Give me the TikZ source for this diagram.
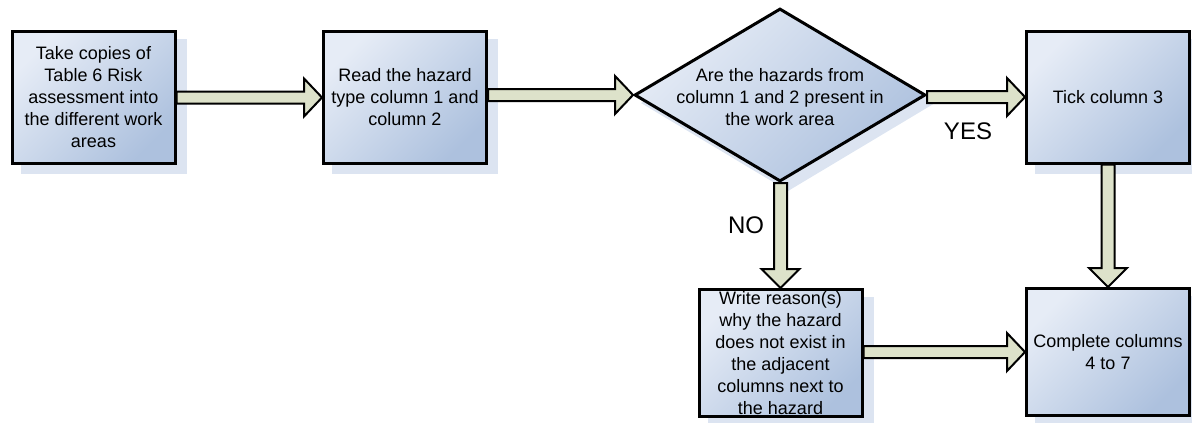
\documentclass[tikz,border=0pt]{standalone}
\usepackage{fontspec}
\setmainfont{Liberation Sans}
\usetikzlibrary{shapes.geometric,calc}
\pgfdeclarelayer{shadowlayer}
\pgfdeclarelayer{arrowlayer}
\pgfsetlayers{shadowlayer,arrowlayer,main}
\definecolor{boxlight}{HTML}{E6ECF6}
\definecolor{boxdark}{HTML}{ADC1DE}
\definecolor{arrowfill}{HTML}{DDE2CA}
\definecolor{shadowc}{HTML}{DCE4F1}
\tikzset{
  stepbox/.style={rectangle, draw=black, line width=3pt, top color=boxlight, bottom color=boxdark, shading angle=45,
    minimum width=163pt, minimum height=132pt, align=center, inner sep=0pt,
    font=\fontsize{18}{22}\selectfont},
  decbox/.style={diamond, draw=black, line width=3pt, top color=boxlight, bottom color=boxdark, shading angle=45,
    minimum width=291pt, minimum height=173pt, inner sep=0pt},
  dectext/.style={align=center, inner sep=0pt, font=\fontsize{18}{22}\selectfont},
  answer/.style={inner sep=0pt, font=\fontsize{24}{28}\selectfont},
  harrow/.style={draw=black, line width=2pt, fill=arrowfill, line join=miter,
    to path={let \p1=(\tikztostart), \p2=(\tikztotarget) in
      (\x1,\y2+6pt) -- (\x2-18pt,\y2+6pt) -- (\x2-18pt,\y2+19pt) -- (\x2,\y2)
      -- (\x2-18pt,\y2-19pt) -- (\x2-18pt,\y2-6pt) -- (\x1,\y2-6pt) -- cycle}},
  varrow/.style={draw=black, line width=2pt, fill=arrowfill, line join=miter,
    to path={let \p1=(\tikztostart), \p2=(\tikztotarget) in
      (\x2-6.5pt,\y1) -- (\x2-6.5pt,\y2+19pt) -- (\x2-19pt,\y2+19pt) -- (\x2,\y2)
      -- (\x2+19pt,\y2+19pt) -- (\x2+6.5pt,\y2+19pt) -- (\x2+6.5pt,\y1) -- cycle}},
  shadowfill/.style={fill=shadowc}
}
\begin{document}
\begin{tikzpicture}[x=1pt,y=-1pt]
\useasboundingbox (0,0) rectangle (1192,423);
% nodes
\node[stepbox] (b1) at (93.5,97.5) {Take copies of\\Table 6 Risk\\assessment into\\the different work\\areas};
\node[stepbox] (b2) at (405,97.5) {Read the hazard\\type column 1 and\\column 2};
\node[decbox] (dia) at (780,95) {};
\node[dectext] (diatext) at (780,97) {Are the hazards from\\column 1 and 2 present in\\the work area};
\node[stepbox] (b3) at (1108,97) {Tick column 3};
\node[stepbox, minimum height=127pt, inner ysep=-3pt] (b4) at (780.5,353) {Write reason(s)\\why the hazard\\does not exist in\\the adjacent\\columns next to\\the hazard};
\node[stepbox, minimum height=127pt] (b5) at (1108,352) {Complete columns\\4 to 7};
\node[answer] (yes) at (968,131) {YES};
\node[answer] (no) at (746,225) {NO};
% shadows
\begin{pgfonlayer}{shadowlayer}
  \foreach \n in {b1,b2,b3,b4,b5}
    \fill[shadowfill] ($(\n.north west)+(10,9)$) rectangle ($(\n.south east)+(10,9)$);
  \fill[shadowfill] ($(dia.west)+(8,8)$) -- ($(dia.north)+(8,8)$) -- ($(dia.east)+(8,8)$) -- ($(dia.south)+(8,8)$) -- cycle;
\end{pgfonlayer}
% arrows
\begin{pgfonlayer}{arrowlayer}
  \draw[harrow] (b1.east) to (b2.west);
  \draw[harrow] (b2.east) to (dia.west);
  \draw[harrow] (dia.east) to (b3.west);
  \draw[varrow] (dia.south) to (b4.north);
  \draw[varrow] (b3.south) to (b5.north);
  \draw[harrow] (b4.east) to (b5.west);
\end{pgfonlayer}
\end{tikzpicture}
\end{document}
